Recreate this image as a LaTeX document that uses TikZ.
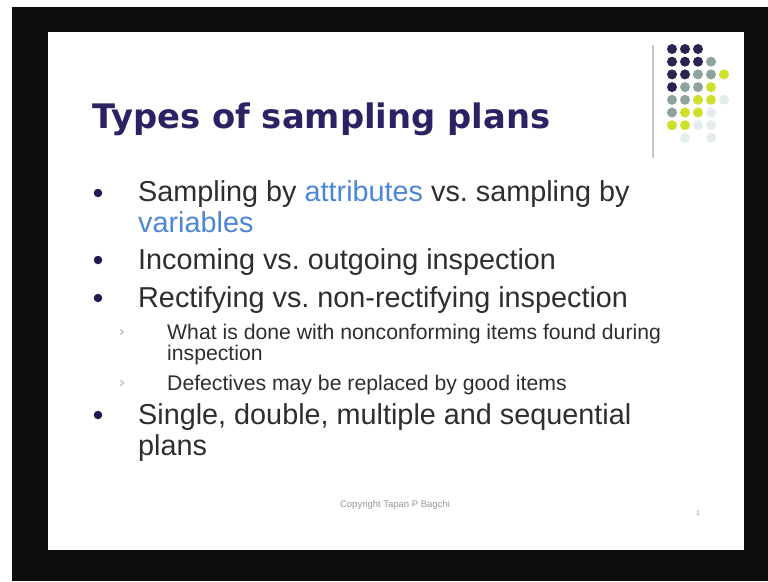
\documentclass[tikz,border=0pt]{standalone}
\usepackage{fontspec}
\setmainfont{Liberation Sans}
\newfontfamily\titlefont{DejaVu Sans}
\frenchspacing
\begin{document}
\begin{tikzpicture}[x=1pt,y=-1pt,
  bodytext/.style={anchor=base west,inner sep=0pt,text=bodygray,font=\fontsize{28.8}{30}\selectfont},
  subtext/.style={anchor=base west,inner sep=0pt,text=bodygray,font=\fontsize{21.2}{22}\selectfont},
  mainbullet/.style={circle,fill=navy,inner sep=0pt,minimum size=8.5pt},
  subbullet/.style={draw=subgreen,line width=1.1pt,line cap=round,line join=round},
  dot/.style={circle,inner sep=0pt,minimum size=10pt}]
\definecolor{frameblack}{HTML}{0C0E0C}
\definecolor{navy}{HTML}{1E1A50}
\definecolor{titlenavy}{HTML}{2A2262}
\definecolor{bodygray}{HTML}{2C302C}
\definecolor{linkblue}{HTML}{4D86D6}
\definecolor{subgreen}{HTML}{B0C4B0}
\definecolor{dkdot}{HTML}{2B2450}
\definecolor{gydot}{HTML}{8DA39E}
\definecolor{yldot}{HTML}{CDE12A}
\definecolor{ftdot}{HTML}{E4ECEC}
\useasboundingbox (0,0) rectangle (768,581);
\fill[white] (0,0) rectangle (768,581);
% screen frame and slide
\fill[frameblack] (12,7) rectangle (768,581);
\fill[white] (48,32) rectangle (744,550);
% decoration: divider and dot grid
\draw[line width=1.4pt,color=black!22] (653,45) -- (653,158);
\foreach \c/\col/\row in {
  dkdot/0/0, dkdot/1/0, dkdot/2/0,
  dkdot/0/1, dkdot/1/1, dkdot/2/1, gydot/3/1,
  dkdot/0/2, dkdot/1/2, gydot/2/2, gydot/3/2, yldot/4/2,
  dkdot/0/3, gydot/1/3, gydot/2/3, yldot/3/3,
  gydot/0/4, gydot/1/4, yldot/2/4, yldot/3/4, ftdot/4/4,
  gydot/0/5, yldot/1/5, yldot/2/5, ftdot/3/5,
  yldot/0/6, yldot/1/6, ftdot/2/6, ftdot/3/6,
  ftdot/1/7, ftdot/3/7}
  \node[dot,fill=\c] (d-\col-\row) at ({672+13*\col},{49+12.7*\row}) {};
% title
\node[anchor=base west,inner sep=0pt,text=titlenavy,font=\titlefont\bfseries\fontsize{33.8}{35}\selectfont] (title) at (92,128) {Types of sampling plans};
% bullets
\node[mainbullet] (b1) at (98,193) {};
\node[mainbullet] (b2) at (98,260) {};
\node[mainbullet] (b3) at (98,298) {};
\node[mainbullet] (b4) at (98,415) {};
\node[bodytext] (t1) at (138,201) {Sampling by \textcolor{linkblue}{attributes} vs. sampling by};
\node[bodytext] (t1b) at (138,232) {\textcolor{linkblue}{variables}};
\node[bodytext] (t2) at (138,269) {Incoming vs. outgoing inspection};
\node[bodytext] (t3) at (138,307) {Rectifying vs. non-rectifying inspection};
\draw[subbullet] (120.5,329.5) -- (123.5,332) -- (120.5,334.5);
\draw[subbullet] (120.5,380.5) -- (123.5,383) -- (120.5,385.5);
\node[subtext] (s1) at (167,339) {What is done with nonconforming items found during};
\node[subtext] (s1b) at (167,360) {inspection};
\node[subtext] (s2) at (167,390) {Defectives may be replaced by good items};
\node[bodytext] (t4) at (138,424) {Single, double, multiple and sequential};
\node[bodytext] (t4b) at (138,455) {plans};
% footer
\node[inner sep=0pt,text=subgreen!80!black,font=\fontsize{9.5}{10}\selectfont] (copy) at (395,505) {Copyright Tapan P Bagchi};
\node[inner sep=0pt,text=black!40,font=\fontsize{7}{8}\selectfont] (pageno) at (698,513) {1};
\end{tikzpicture}
\end{document}
